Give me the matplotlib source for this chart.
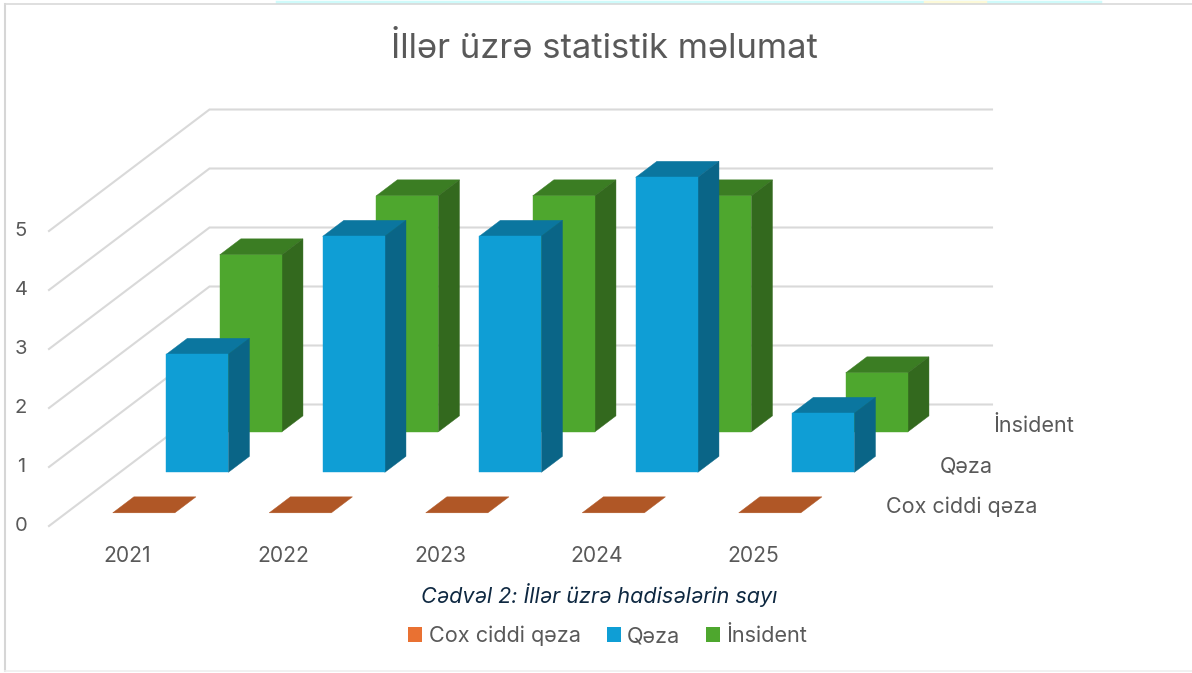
import matplotlib
matplotlib.use('Agg')
import matplotlib.pyplot as plt
from matplotlib.patches import Patch, Polygon

plt.rcParams['font.family'] = ['Inter', 'DejaVu Sans']

years = ['2021', '2022', '2023', '2024', '2025']
series = ['Cox ciddi qəza', 'Qəza', 'İnsident']
cox_ciddi = [0, 0, 0, 0, 0]
qeza = [2, 4, 4, 5, 1]
insident = [3, 4, 4, 4, 1]
y_ticks = [0, 1, 2, 3, 4, 5]

# front, top and side shades of each series
colors = [('#E97132', '#B05726', '#984A20'),
          ('#0F9ED5', '#0B769F', '#0A6587'),
          ('#4EA72E', '#3B7D23', '#33691E')]

text_color = '#595959'
grid_color = '#D9D9D9'


def project(cat, value, depth):
    # oblique view of the Excel 3D chart: category, value, series row -> pixels
    return (49 + cat * 156.5 + depth * 53.5,
            526 - value * 59 - depth * 40.5)


def draw_bar(ax, cat, value, row, shades):
    left, right = cat + 0.296, cat + 0.693
    front, back = row + 0.325, row + 0.72
    faces = [(shades[1], [(left, value, front), (right, value, front),
                          (right, value, back), (left, value, back)])]
    if value > 0:
        faces.append((shades[2], [(right, 0, front), (right, 0, back),
                                  (right, value, back), (right, value, front)]))
        faces.append((shades[0], [(left, 0, front), (right, 0, front),
                                  (right, value, front), (left, value, front)]))
    for color, corners in faces:
        ax.add_patch(Polygon([project(*c) for c in corners], closed=True,
                             facecolor=color, edgecolor=color, linewidth=0.3))


fig = plt.figure(figsize=(11.92, 6.73), dpi=100)
ax = fig.add_axes([0, 0, 1, 1])
ax.set_xlim(0, 1192)
ax.set_ylim(673, 0)
ax.axis('off')

# screenshot leftovers around the chart frame
ax.plot([277, 1100], [1.5, 1.5], color='#CFFBFB', lw=2.5)
ax.plot([925, 985], [1.5, 1.5], color='#FCF9D8', lw=2.5)
ax.plot([5, 5], [4, 671], color='#D6D6D6', lw=1.5)
ax.plot([5, 1192], [4, 4], color='#D9D9D9', lw=1.2)
ax.plot([5, 1192], [671, 671], color='#EFEFEF', lw=1.2)

# walls
for v in y_ticks:
    x0, y0 = project(0, v, 0)
    x1, y1 = project(0, v, 3)
    x2, y2 = project(5, v, 3)
    ax.plot([x0, x1, x2], [y0, y1, y2], color=grid_color, lw=1.5,
            solid_joinstyle='miter', zorder=1)
    ax.text(21, y0, str(v), ha='center', va='center', fontsize=14.5,
            color=text_color)

# bars, back row first
rows = [cox_ciddi, qeza, insident]
for row in [2, 1, 0]:
    for cat, value in enumerate(rows[row]):
        draw_bar(ax, cat, value, row, colors[row])

for i, year in enumerate(years):
    x, y = project(i + 0.5, 0, 0)
    ax.text(x, y + 30.5, year, ha='center', va='center', fontsize=15.2,
            color=text_color)

for i, name in enumerate(series):
    x = project(5, 0, i + 1)[0]
    y = project(5, 0, i + 0.5)[1]
    ax.text(x + 1, y + 1, name, ha='left', va='center', fontsize=15.5,
            color=text_color)

ax.text(604.5, 48.5, 'İllər üzrə statistik məlumat', ha='center', va='center',
        fontsize=24.9, color=text_color)
ax.text(599, 595, 'Cədvəl 2: İllər üzrə hadisələrin sayı', ha='center',
        va='center', fontsize=15.5, style='italic', color='#0E2841')

handles = [Patch(facecolor=c[0], edgecolor='none', label=n)
           for c, n in zip(colors, series)]
ax.legend(handles=handles, ncol=3, loc='center', frameon=False,
          bbox_to_anchor=(608, 636), bbox_transform=ax.transData,
          fontsize=15.6, labelcolor=text_color, handlelength=0.64,
          handleheight=0.64, handletextpad=0.3, columnspacing=1.2)

fig.savefig('out.png', dpi=100)
